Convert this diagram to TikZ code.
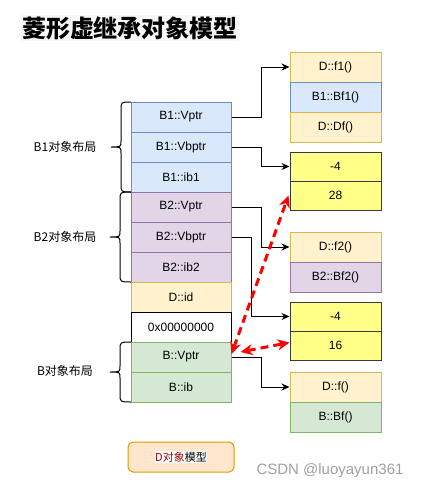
\documentclass[tikz,border=0pt]{standalone}
\usepackage{fontspec}
\setmainfont{Liberation Sans}
\newfontfamily\cjk{Noto Sans CJK SC}
\usetikzlibrary{arrows.meta,calc}
\definecolor{bluef}{HTML}{DAE8FC}\definecolor{blued}{HTML}{6C8EBF}
\definecolor{purf}{HTML}{E1D5E7}\definecolor{purd}{HTML}{9673A6}
\definecolor{orf}{HTML}{FFF2CC}\definecolor{ord}{HTML}{D6B656}
\definecolor{grf}{HTML}{D5E8D4}\definecolor{grd}{HTML}{82B366}
\definecolor{yef}{HTML}{FFFF88}\definecolor{yed}{HTML}{36393D}
\definecolor{legf}{HTML}{FFE6CC}\definecolor{legd}{HTML}{D79B00}
\definecolor{titlebg}{HTML}{F7F7F7}
\definecolor{darkred}{HTML}{A00000}
\definecolor{wmgray}{HTML}{A0A0A0}
\begin{document}
\begin{tikzpicture}[x=1pt,y=-1pt,
  cell/.style={rectangle, inner sep=0pt, minimum width=100pt, minimum height=30pt,
    font=\fontsize{12}{14}\selectfont, line width=1pt},
  rcell/.style={cell, minimum width=91pt},
  ycell/.style={rcell, minimum height=29pt, fill=yef, draw=yed},
  blue/.style={fill=bluef, draw=blued},
  purp/.style={fill=purf, draw=purd},
  oran/.style={fill=orf, draw=ord},
  gree/.style={fill=grf, draw=grd},
  conn/.style={line width=1pt, -{Stealth[length=8pt,width=7pt]}},
  redarrow/.style={red, line width=3pt, dash pattern=on 8pt off 5pt,
    {Stealth[length=12pt,width=11pt]}-{Stealth[length=12pt,width=11pt]}},
  bracestyle/.style={line width=1pt},
  lbl/.style={font=\cjk\fontsize{12}{14}\selectfont, inner sep=0pt}
]
\useasboundingbox (0,0) rectangle (423,490);

% title
\node[font=\cjk\bfseries\fontsize{24}{28}\selectfont, fill=titlebg, inner sep=1pt] (title) at (130,28) {菱形虚继承对象模型};

% left column
\node[cell,blue] (b1v) at (181,117) {B1::Vptr};
\node[cell,blue] (b1vb) at (181,147) {B1::Vbptr};
\node[cell,blue] (b1i) at (181,177) {B1::ib1};
\node[cell,purp] (b2v) at (181,207) {B2::Vptr};
\node[cell,purp] (b2vb) at (181,237) {B2::Vbptr};
\node[cell,purp] (b2i) at (181,267) {B2::ib2};
\node[cell,oran] (did) at (181,297) {D::id};
\node[cell,fill=white,draw=black] (zero) at (181,327) {0x00000000};
\node[cell,gree] (bv) at (181,357) {B::Vptr};
\node[cell,gree] (bi) at (181,387) {B::ib};

% right column
\node[rcell,oran] (f1) at (335.5,67) {D::f1()};
\node[rcell,blue] (bf1) at (335.5,97) {B1::Bf1()};
\node[rcell,oran] (df) at (335.5,127) {D::Df()};
\node[ycell] (m1a) at (335.5,166.5) {-4};
\node[ycell] (m1b) at (335.5,195.5) {28};
\node[rcell,oran] (f2) at (335.5,247) {D::f2()};
\node[rcell,purp] (bf2) at (335.5,277) {B2::Bf2()};
\node[ycell] (m2a) at (335.5,316.5) {-4};
\node[ycell] (m2b) at (335.5,345.5) {16};
\node[rcell,oran] (fb) at (335.5,387) {D::f()};
\node[rcell,gree] (bbf) at (335.5,417) {B::Bf()};

% connectors
\draw[conn] (b1v.east) -- ++(30,0) |- (f1.west);
\draw[conn] (b1vb.east) -- ++(30,0) |- (m1a.west);
\draw[conn] (b2v.east) -- ++(30,0) |- (f2.west);
\draw[conn] (b2vb.east) -- ++(20,0) |- (m2a.west);
\draw[conn] (bv.east) -- ++(30,0) |- (fb.west);

% red dashed arrows
\draw[redarrow] ([yshift=3pt]bv.east) -- ([xshift=-1pt]m1b.west);
\draw[redarrow] ([xshift=9pt,yshift=5pt]bv.east) -- ([yshift=3pt]m2b.west);

% braces
\draw[bracestyle] (131,102) .. controls (121,102) .. (121,110) -- (121,141)
  .. controls (121,147) .. (111,147) .. controls (121,147) .. (121,153)
  -- (121,184) .. controls (121,192) .. (131,192);
\draw[bracestyle] (131,192) .. controls (120,192) .. (120,200) -- (120,231)
  .. controls (120,237) .. (110,237) .. controls (120,237) .. (120,243)
  -- (120,274) .. controls (120,282) .. (131,282);
\draw[bracestyle] (131,342) .. controls (120,342) .. (120,350) -- (120,366)
  .. controls (120,372) .. (110,372) .. controls (120,372) .. (120,378)
  -- (120,394) .. controls (120,402) .. (131,402);

% labels
\node[lbl] (l1) at (65,147) {B1对象布局};
\node[lbl] (l2) at (65,237) {B2对象布局};
\node[lbl] (l3) at (65,371) {B对象布局};

% legend
\node[rectangle, rounded corners=5pt, minimum width=106pt, minimum height=30pt,
  fill=legf, draw=legd, line width=1pt, inner sep=0pt] (leg) at (181,457)
  {\setlength\fboxsep{0.5pt}\colorbox{white}{\cjk\fontsize{11}{13}\selectfont\textcolor{darkred}{D对象}模型}};

% watermark
\node[text=wmgray, font=\fontsize{15}{18}\selectfont, inner sep=0pt] (wm) at (330,470.5) {CSDN @luoyayun361};
\end{tikzpicture}
\end{document}
